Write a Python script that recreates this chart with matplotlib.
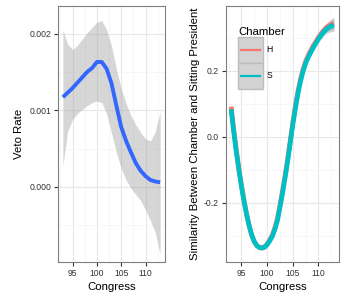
import matplotlib
matplotlib.use('Agg')
import matplotlib.pyplot as plt
from matplotlib.patches import Rectangle
from matplotlib.lines import Line2D
from matplotlib.ticker import MultipleLocator, FormatStrFormatter

plt.rcParams['font.family'] = ['Liberation Sans', 'DejaVu Sans']
plt.rcParams['axes.unicode_minus'] = False

# left panel: smoothed veto rate with confidence band (one value per congress)
congress = list(range(93, 114))
veto_rate = [0.00117, 0.00123, 0.00129, 0.00136, 0.00143, 0.00150, 0.00155, 0.00163, 0.00163,
             0.00154, 0.00135, 0.00106, 0.00078, 0.00060, 0.00045, 0.00031, 0.00021, 0.00014,
             0.00009, 0.00007, 0.00006]
veto_hi = [0.00205, 0.00186, 0.00179, 0.00185, 0.00193, 0.00201, 0.00208, 0.00215, 0.00217,
           0.00205, 0.00184, 0.00154, 0.00128, 0.00109, 0.00093, 0.00081, 0.00071, 0.00063,
           0.00060, 0.00072, 0.00098]
veto_lo = [0.00027, 0.00073, 0.00088, 0.00096, 0.00101, 0.00106, 0.00110, 0.00112, 0.00110,
           0.00095, 0.00070, 0.00045, 0.00024, 0.00009, -0.00002, -0.00010, -0.00018, -0.00030,
           -0.00044, -0.00060, -0.00088]

# right panel: similarity by chamber, read every half congress
congress_half = [93 + 0.5 * i for i in range(41)]
sim_s = [0.083, 0.015, -0.045, -0.100, -0.150, -0.195, -0.235, -0.270, -0.298, -0.318,
         -0.330, -0.336, -0.337, -0.335, -0.328, -0.316, -0.303, -0.282, -0.255, -0.215,
         -0.172, -0.125, -0.075, -0.020, 0.035, 0.085, 0.130, 0.167, 0.198, 0.222,
         0.240, 0.255, 0.270, 0.283, 0.296, 0.307, 0.317, 0.325, 0.331, 0.335, 0.338]
sim_h = [0.091, 0.022, -0.040, -0.096, -0.147, -0.193, -0.234, -0.269, -0.298, -0.318,
         -0.330, -0.336, -0.337, -0.334, -0.326, -0.313, -0.299, -0.277, -0.249, -0.208,
         -0.165, -0.118, -0.068, -0.013, 0.042, 0.092, 0.137, 0.173, 0.204, 0.228,
         0.246, 0.261, 0.276, 0.288, 0.301, 0.312, 0.322, 0.330, 0.336, 0.340, 0.343]
sim_band = [0.012, 0.010, 0.009, 0.008, 0.008, 0.007, 0.007, 0.007, 0.007, 0.007,
            0.007, 0.007, 0.007, 0.007, 0.007, 0.007, 0.007, 0.007, 0.007, 0.007,
            0.007, 0.007, 0.007, 0.007, 0.007, 0.007, 0.007, 0.007, 0.007, 0.007,
            0.008, 0.008, 0.009, 0.009, 0.010, 0.011, 0.012, 0.013, 0.015, 0.017, 0.019]

chambers = ['H', 'S']
colors = {'H': '#F8766D', 'S': '#00BFC4'}

W, H = 346, 304
fig = plt.figure(figsize=(W / 100, H / 100), dpi=100)
ax1 = fig.add_axes([58 / W, 42 / H, 107 / W, 256 / H])
ax2 = fig.add_axes([226 / W, 42 / H, 113 / W, 256 / H])


def style(ax):
    ax.set_facecolor('white')
    for sp in ax.spines.values():
        sp.set_color('#7F7F7F')
        sp.set_linewidth(0.8)
    ax.xaxis.set_major_locator(MultipleLocator(5))
    ax.xaxis.set_minor_locator(MultipleLocator(2.5))
    ax.grid(True, which='major', color='#E8E8E8', linewidth=0.8)
    ax.grid(True, which='minor', color='#F6F6F6', linewidth=0.6)
    ax.set_axisbelow(True)
    ax.tick_params(which='major', length=3, width=0.8, color='#333333',
                   labelsize=6.2, labelcolor='#333333', pad=2)
    ax.tick_params(which='minor', length=0)
    ax.set_xlim(92, 114)
    ax.set_xlabel('Congress', fontsize=8.2, labelpad=3)


style(ax1)
ax1.fill_between(congress, veto_lo, veto_hi, color='#999999', alpha=0.4, linewidth=0)
ax1.plot(congress, veto_rate, color='#3366FF', linewidth=2.8, solid_capstyle='butt')
ax1.set_ylim(-0.00098, 0.00236)
ax1.yaxis.set_major_locator(MultipleLocator(0.001))
ax1.yaxis.set_minor_locator(MultipleLocator(0.0005))
ax1.yaxis.set_major_formatter(FormatStrFormatter('%.3f'))
ax1.set_ylabel('Veto Rate', fontsize=8.2, labelpad=4)

style(ax2)
sims = {'H': sim_h, 'S': sim_s}
for ch in chambers:
    v = sims[ch]
    lo = [a - b for a, b in zip(v, sim_band)]
    hi = [a + b for a, b in zip(v, sim_band)]
    ax2.fill_between(congress_half, lo, hi, color='#999999', alpha=0.4, linewidth=0)
for ch in chambers:
    ax2.plot(congress_half, sims[ch], color=colors[ch], linewidth=3.4, solid_capstyle='butt')
ax2.set_ylim(-0.38, 0.396)
ax2.yaxis.set_major_locator(MultipleLocator(0.2))
ax2.yaxis.set_minor_locator(MultipleLocator(0.1))
ax2.yaxis.set_major_formatter(FormatStrFormatter('%.1f'))
ax2.set_ylabel('Similarity Between Chamber and Sitting President', fontsize=8.2, labelpad=3)


class KeyHandler:
    # ggplot-like key: grey ribbon box with the line across it
    def legend_artist(self, legend, orig_handle, fontsize, handlebox):
        x0, y0 = -handlebox.xdescent, -handlebox.ydescent
        w, h = handlebox.width, handlebox.height
        tr = handlebox.get_transform()
        rect = Rectangle((x0, y0), w, h, facecolor='#D3D3D3', edgecolor='#BDBDBD',
                         linewidth=1.0, transform=tr)
        ln = Line2D([x0 + 0.12 * w, x0 + 0.88 * w], [y0 + h / 2, y0 + h / 2],
                    color=orig_handle.get_color(), linewidth=1.6, transform=tr)
        handlebox.add_artist(rect)
        handlebox.add_artist(ln)
        return rect


handles = [Line2D([], [], color=colors[ch]) for ch in chambers]
leg = ax2.legend(handles, chambers, title='Chamber', loc='upper left',
                 bbox_to_anchor=(0.071, 0.935), frameon=False, fontsize=6.2,
                 title_fontsize=8.2, handler_map={Line2D: KeyHandler()},
                 handlelength=2.9, handleheight=4.26, labelspacing=0.0,
                 handletextpad=0.4, borderpad=0.0)
leg._legend_box.align = 'left'

fig.savefig('out.png', dpi=100, facecolor='white')
